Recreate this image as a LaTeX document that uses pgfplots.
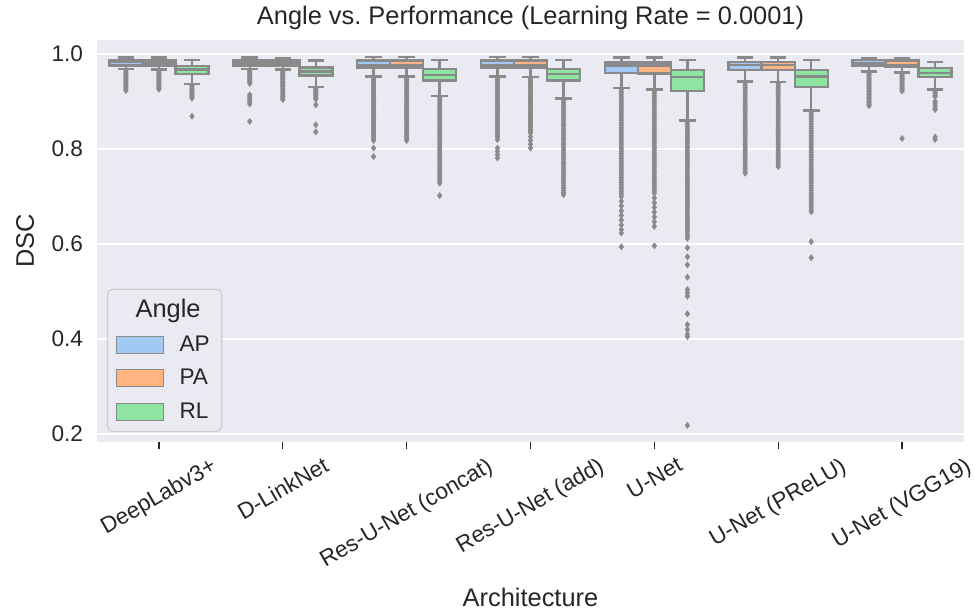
\documentclass[border=0pt]{standalone}
\usepackage{fontspec}
\setmainfont{Liberation Sans}
\usepackage{graphicx}
\usepackage{pgfplots}
\pgfplotsset{compat=1.18}
\usepgfplotslibrary{statistics}
\definecolor{bgc}{HTML}{EAEAF2}
\definecolor{apc}{HTML}{A1C9F4}
\definecolor{pac}{HTML}{FFB482}
\definecolor{rlc}{HTML}{8DE5A1}
\definecolor{bxg}{HTML}{8A8A8A}
\definecolor{textc}{HTML}{262626}
\definecolor{legb}{HTML}{CCCCCC}
\pgfplotsset{
  bx/.style={forget plot, draw=bxg, line width=1.2pt, mark=diamond*, mark size=1.5pt,
    mark options={fill=bxg, draw=bxg, line width=0.3pt, solid}},
  limg/.style={legend image code/.code={\draw[##1, line width=0.5pt, sharp corners] (0pt,-4.2pt) rectangle (23.5pt,4.3pt);}},
  every axis title/.style={at={(axis description cs:0.5,1.0547)}, anchor=center, font=\fontsize{12.7}{15}\selectfont, text=textc}
}
\begin{document}
\begin{tikzpicture}
\path[use as bounding box] (-48.5pt,-84.5pt) rectangle (438.5pt,221pt);
\begin{axis}[
  at={(0pt,0pt)}, anchor=south west,
  scale only axis, width=433.5pt, height=201pt,
  xmin=-0.5, xmax=6.5, ymin=0.183, ymax=1.0295,
  axis background/.style={fill=bgc},
  axis line style={draw=none},
  ymajorgrids, grid style={white, line width=1.1pt},
  tick align=outside, major tick length=3.5pt,
  xtick pos=bottom, ytick pos=left,
  xtick style={draw=textc, line width=0.6pt},
  ytick style={draw=none},
  xtick={0,1,2,3,4,5,6},
  xticklabels={{\rotatebox{30}{DeepLabv3+}},{\rotatebox{30}{D-LinkNet}},{\rotatebox{30}{Res-U-Net (concat)}},{\rotatebox{30}{Res-U-Net (add)}},{\rotatebox{30}{U-Net}},{\rotatebox{30}{U-Net (PReLU)}},{\rotatebox{30}{U-Net (VGG19)}}},
  ytick={0.2,0.4,0.6,0.8,1.0},
  yticklabel style={/pgf/number format/fixed, /pgf/number format/precision=1, /pgf/number format/fixed zerofill},
  /pgf/number format/assume math mode=true,
  ticklabel style={font=\fontsize{11.3}{13}\selectfont, text=textc},
  xticklabel style={anchor=north},
  title={Angle vs.\ Performance (Learning Rate = 0.0001)},
  xlabel={Architecture},
  xlabel style={font=\fontsize{12.7}{15}\selectfont, text=textc, at={(axis description cs:0.5,-0.386)}, anchor=center},
  ylabel={DSC},
  ylabel style={font=\fontsize{12.7}{15}\selectfont, text=textc, at={(axis description cs:-0.083,0.5)}, anchor=center},
  boxplot/draw direction=y,
  boxplot/box extend=0.2667,
  boxplot/whisker extend=0.1333,
  legend cell align=left,
  legend style={at={(rel axis cs:0.0115,0.025)}, anchor=south west, fill=bgc, draw=legb, line width=0.6pt,
    rounded corners=2.5pt, font=\fontsize{11.3}{13}\selectfont, text=textc, inner xsep=4pt, inner ysep=3pt,
    row sep=3.5pt, column sep=6pt},
]
% ---------------- DeepLabv3+ ----------------
\addplot[bx, fill=apc, boxplot prepared={draw position=-0.2667, lower whisker=0.968, lower quartile=0.976, median=0.983, upper quartile=0.987, upper whisker=0.993}]
 table[row sep=\\, y index=0]{y\\0.965\\0.962\\0.959\\0.956\\0.953\\0.950\\0.947\\0.944\\0.941\\0.938\\0.935\\0.932\\0.929\\0.926\\0.923\\};
\addplot[bx, fill=pac, boxplot prepared={draw position=0, lower whisker=0.967, lower quartile=0.976, median=0.982, upper quartile=0.987, upper whisker=0.993}]
 table[row sep=\\, y index=0]{y\\0.964\\0.961\\0.958\\0.955\\0.952\\0.949\\0.946\\0.943\\0.940\\0.937\\0.934\\0.931\\0.928\\0.926\\};
\addplot[bx, fill=rlc, boxplot prepared={draw position=0.2667, lower whisker=0.937, lower quartile=0.958, median=0.967, upper quartile=0.975, upper whisker=0.987}]
 table[row sep=\\, y index=0]{y\\0.934\\0.931\\0.928\\0.925\\0.922\\0.919\\0.916\\0.913\\0.910\\0.907\\0.869\\};
% ---------------- D-LinkNet ----------------
\addplot[bx, fill=apc, boxplot prepared={draw position=0.7333, lower whisker=0.968, lower quartile=0.976, median=0.982, upper quartile=0.987, upper whisker=0.993}]
 table[row sep=\\, y index=0]{y\\0.965\\0.962\\0.959\\0.956\\0.953\\0.950\\0.947\\0.944\\0.941\\0.938\\0.914\\0.911\\0.907\\0.903\\0.899\\0.895\\0.858\\};
\addplot[bx, fill=pac, boxplot prepared={draw position=1, lower whisker=0.967, lower quartile=0.976, median=0.982, upper quartile=0.987, upper whisker=0.992}]
 table[row sep=\\, y index=0]{y\\0.964\\0.961\\0.958\\0.955\\0.952\\0.949\\0.946\\0.943\\0.940\\0.937\\0.934\\0.931\\0.927\\0.923\\0.919\\0.915\\0.911\\0.907\\0.904\\};
\addplot[bx, fill=rlc, boxplot prepared={draw position=1.2667, lower whisker=0.930, lower quartile=0.955, median=0.963, upper quartile=0.972, upper whisker=0.986}]
 table[row sep=\\, y index=0]{y\\0.927\\0.924\\0.921\\0.918\\0.915\\0.912\\0.908\\0.905\\0.893\\0.851\\0.836\\};
% ---------------- Res-U-Net (concat) ----------------
\addplot[bx, fill=apc, boxplot prepared={draw position=1.7333, lower whisker=0.953, lower quartile=0.972, median=0.977, upper quartile=0.986, upper whisker=0.994}]
 table[row sep=\\, y index=0]{y\\0.950\\0.946\\0.942\\0.938\\0.934\\0.930\\0.926\\0.922\\0.918\\0.914\\0.910\\0.906\\0.902\\0.898\\0.894\\0.890\\0.886\\0.882\\0.878\\0.874\\0.870\\0.866\\0.862\\0.858\\0.854\\0.850\\0.846\\0.842\\0.838\\0.834\\0.830\\0.826\\0.822\\0.818\\0.802\\0.784\\};
\addplot[bx, fill=pac, boxplot prepared={draw position=2, lower whisker=0.953, lower quartile=0.972, median=0.977, upper quartile=0.986, upper whisker=0.994}]
 table[row sep=\\, y index=0]{y\\0.950\\0.946\\0.942\\0.938\\0.934\\0.930\\0.926\\0.922\\0.918\\0.914\\0.910\\0.906\\0.902\\0.898\\0.894\\0.890\\0.886\\0.882\\0.878\\0.874\\0.870\\0.866\\0.862\\0.858\\0.854\\0.850\\0.846\\0.842\\0.838\\0.834\\0.830\\0.826\\0.822\\0.818\\};
\addplot[bx, fill=rlc, boxplot prepared={draw position=2.2667, lower whisker=0.911, lower quartile=0.944, median=0.956, upper quartile=0.969, upper whisker=0.988}]
 table[row sep=\\, y index=0]{y\\0.908\\0.903\\0.898\\0.893\\0.888\\0.883\\0.878\\0.873\\0.868\\0.863\\0.858\\0.853\\0.848\\0.843\\0.838\\0.833\\0.828\\0.823\\0.818\\0.813\\0.808\\0.803\\0.798\\0.793\\0.788\\0.783\\0.778\\0.773\\0.768\\0.763\\0.758\\0.753\\0.748\\0.743\\0.738\\0.733\\0.728\\0.702\\};
% ---------------- Res-U-Net (add) ----------------
\addplot[bx, fill=apc, boxplot prepared={draw position=2.7333, lower whisker=0.953, lower quartile=0.972, median=0.976, upper quartile=0.986, upper whisker=0.994}]
 table[row sep=\\, y index=0]{y\\0.950\\0.946\\0.942\\0.938\\0.934\\0.930\\0.926\\0.922\\0.918\\0.914\\0.910\\0.906\\0.902\\0.898\\0.894\\0.890\\0.886\\0.882\\0.878\\0.874\\0.870\\0.866\\0.862\\0.858\\0.854\\0.850\\0.846\\0.842\\0.838\\0.834\\0.830\\0.826\\0.820\\0.802\\0.795\\0.788\\0.781\\};
\addplot[bx, fill=pac, boxplot prepared={draw position=3, lower whisker=0.952, lower quartile=0.972, median=0.976, upper quartile=0.986, upper whisker=0.994}]
 table[row sep=\\, y index=0]{y\\0.949\\0.945\\0.941\\0.937\\0.933\\0.929\\0.925\\0.921\\0.917\\0.913\\0.909\\0.905\\0.901\\0.897\\0.893\\0.889\\0.885\\0.881\\0.877\\0.873\\0.869\\0.865\\0.861\\0.857\\0.853\\0.849\\0.845\\0.841\\0.838\\0.834\\0.826\\0.818\\0.810\\0.802\\};
\addplot[bx, fill=rlc, boxplot prepared={draw position=3.2667, lower whisker=0.906, lower quartile=0.944, median=0.958, upper quartile=0.969, upper whisker=0.988}]
 table[row sep=\\, y index=0]{y\\0.903\\0.898\\0.893\\0.888\\0.883\\0.878\\0.873\\0.868\\0.863\\0.858\\0.853\\0.848\\0.843\\0.838\\0.833\\0.828\\0.823\\0.818\\0.813\\0.808\\0.803\\0.798\\0.793\\0.788\\0.783\\0.778\\0.773\\0.768\\0.763\\0.758\\0.753\\0.748\\0.743\\0.738\\0.733\\0.728\\0.723\\0.718\\0.713\\0.708\\0.704\\};
% ---------------- U-Net ----------------
\addplot[bx, fill=apc, boxplot prepared={draw position=3.7333, lower whisker=0.928, lower quartile=0.960, median=0.976, upper quartile=0.982, upper whisker=0.993}]
 table[row sep=\\, y index=0]{y\\0.925\\0.920\\0.915\\0.910\\0.905\\0.900\\0.895\\0.890\\0.885\\0.880\\0.875\\0.870\\0.865\\0.860\\0.855\\0.850\\0.845\\0.840\\0.835\\0.830\\0.825\\0.820\\0.815\\0.810\\0.805\\0.800\\0.795\\0.790\\0.785\\0.780\\0.775\\0.770\\0.765\\0.760\\0.755\\0.750\\0.745\\0.740\\0.735\\0.730\\0.725\\0.720\\0.715\\0.710\\0.705\\0.700\\0.690\\0.680\\0.670\\0.660\\0.650\\0.640\\0.630\\0.623\\0.594\\};
\addplot[bx, fill=pac, boxplot prepared={draw position=4, lower whisker=0.925, lower quartile=0.959, median=0.976, upper quartile=0.982, upper whisker=0.993}]
 table[row sep=\\, y index=0]{y\\0.922\\0.917\\0.912\\0.907\\0.902\\0.897\\0.892\\0.887\\0.882\\0.877\\0.872\\0.867\\0.862\\0.857\\0.852\\0.847\\0.842\\0.837\\0.832\\0.827\\0.822\\0.817\\0.812\\0.807\\0.802\\0.797\\0.792\\0.787\\0.782\\0.777\\0.772\\0.767\\0.762\\0.757\\0.752\\0.747\\0.742\\0.737\\0.732\\0.727\\0.722\\0.717\\0.712\\0.707\\0.697\\0.687\\0.677\\0.667\\0.657\\0.647\\0.637\\0.596\\};
\addplot[bx, fill=rlc, boxplot prepared={draw position=4.2667, lower whisker=0.860, lower quartile=0.922, median=0.952, upper quartile=0.966, upper whisker=0.987}]
 table[row sep=\\, y index=0]{y\\0.857\\0.852\\0.847\\0.842\\0.837\\0.832\\0.827\\0.822\\0.817\\0.812\\0.807\\0.802\\0.797\\0.792\\0.787\\0.782\\0.777\\0.772\\0.767\\0.762\\0.757\\0.752\\0.747\\0.742\\0.737\\0.732\\0.727\\0.722\\0.717\\0.712\\0.707\\0.702\\0.697\\0.692\\0.687\\0.682\\0.677\\0.672\\0.667\\0.662\\0.657\\0.652\\0.647\\0.642\\0.637\\0.632\\0.627\\0.622\\0.617\\0.612\\0.592\\0.573\\0.556\\0.530\\0.504\\0.497\\0.490\\0.453\\0.430\\0.420\\0.410\\0.405\\0.218\\};
% ---------------- U-Net (PReLU) ----------------
\addplot[bx, fill=apc, boxplot prepared={draw position=4.7333, lower whisker=0.942, lower quartile=0.966, median=0.977, upper quartile=0.983, upper whisker=0.993}]
 table[row sep=\\, y index=0]{y\\0.939\\0.934\\0.929\\0.924\\0.919\\0.914\\0.909\\0.904\\0.899\\0.894\\0.889\\0.884\\0.879\\0.874\\0.869\\0.864\\0.859\\0.854\\0.849\\0.844\\0.839\\0.834\\0.829\\0.824\\0.819\\0.814\\0.809\\0.804\\0.799\\0.794\\0.789\\0.784\\0.779\\0.774\\0.769\\0.764\\0.759\\0.754\\0.749\\};
\addplot[bx, fill=pac, boxplot prepared={draw position=5, lower whisker=0.941, lower quartile=0.966, median=0.977, upper quartile=0.983, upper whisker=0.993}]
 table[row sep=\\, y index=0]{y\\0.938\\0.933\\0.928\\0.923\\0.918\\0.913\\0.908\\0.903\\0.898\\0.893\\0.888\\0.883\\0.878\\0.873\\0.868\\0.863\\0.858\\0.853\\0.848\\0.843\\0.838\\0.833\\0.828\\0.823\\0.818\\0.813\\0.808\\0.803\\0.798\\0.793\\0.788\\0.783\\0.778\\0.773\\0.768\\0.763\\};
\addplot[bx, fill=rlc, boxplot prepared={draw position=5.2667, lower whisker=0.881, lower quartile=0.931, median=0.953, upper quartile=0.966, upper whisker=0.988}]
 table[row sep=\\, y index=0]{y\\0.878\\0.873\\0.868\\0.863\\0.858\\0.853\\0.848\\0.843\\0.838\\0.833\\0.828\\0.823\\0.818\\0.813\\0.808\\0.803\\0.798\\0.793\\0.788\\0.783\\0.778\\0.773\\0.768\\0.763\\0.758\\0.753\\0.748\\0.743\\0.738\\0.733\\0.728\\0.723\\0.718\\0.713\\0.708\\0.703\\0.698\\0.693\\0.688\\0.683\\0.678\\0.673\\0.668\\0.605\\0.571\\};
% ---------------- U-Net (VGG19) ----------------
\addplot[bx, fill=apc, boxplot prepared={draw position=5.7333, lower whisker=0.963, lower quartile=0.975, median=0.980, upper quartile=0.987, upper whisker=0.992}]
 table[row sep=\\, y index=0]{y\\0.960\\0.957\\0.954\\0.951\\0.948\\0.945\\0.942\\0.939\\0.936\\0.933\\0.930\\0.927\\0.924\\0.921\\0.918\\0.915\\0.912\\0.909\\0.906\\0.903\\0.900\\0.897\\0.894\\0.891\\};
\addplot[bx, fill=pac, boxplot prepared={draw position=6, lower whisker=0.961, lower quartile=0.973, median=0.977, upper quartile=0.986, upper whisker=0.992}]
 table[row sep=\\, y index=0]{y\\0.958\\0.955\\0.952\\0.949\\0.946\\0.943\\0.940\\0.937\\0.934\\0.931\\0.928\\0.925\\0.922\\0.822\\};
\addplot[bx, fill=rlc, boxplot prepared={draw position=6.2667, lower whisker=0.925, lower quartile=0.951, median=0.960, upper quartile=0.970, upper whisker=0.983}]
 table[row sep=\\, y index=0]{y\\0.922\\0.919\\0.916\\0.913\\0.910\\0.900\\0.895\\0.890\\0.885\\0.883\\0.825\\0.820\\};
% ---------------- legend ----------------
\addlegendimage{empty legend}
\addlegendentry{\hspace*{-22pt}\fontsize{12.7}{15}\selectfont Angle\rule[-6pt]{0pt}{6pt}}
\addlegendimage{limg, fill=apc, draw=bxg}
\addlegendentry{AP}
\addlegendimage{limg, fill=pac, draw=bxg}
\addlegendentry{PA}
\addlegendimage{limg, fill=rlc, draw=bxg}
\addlegendentry{RL}
\end{axis}
\end{tikzpicture}
\end{document}
